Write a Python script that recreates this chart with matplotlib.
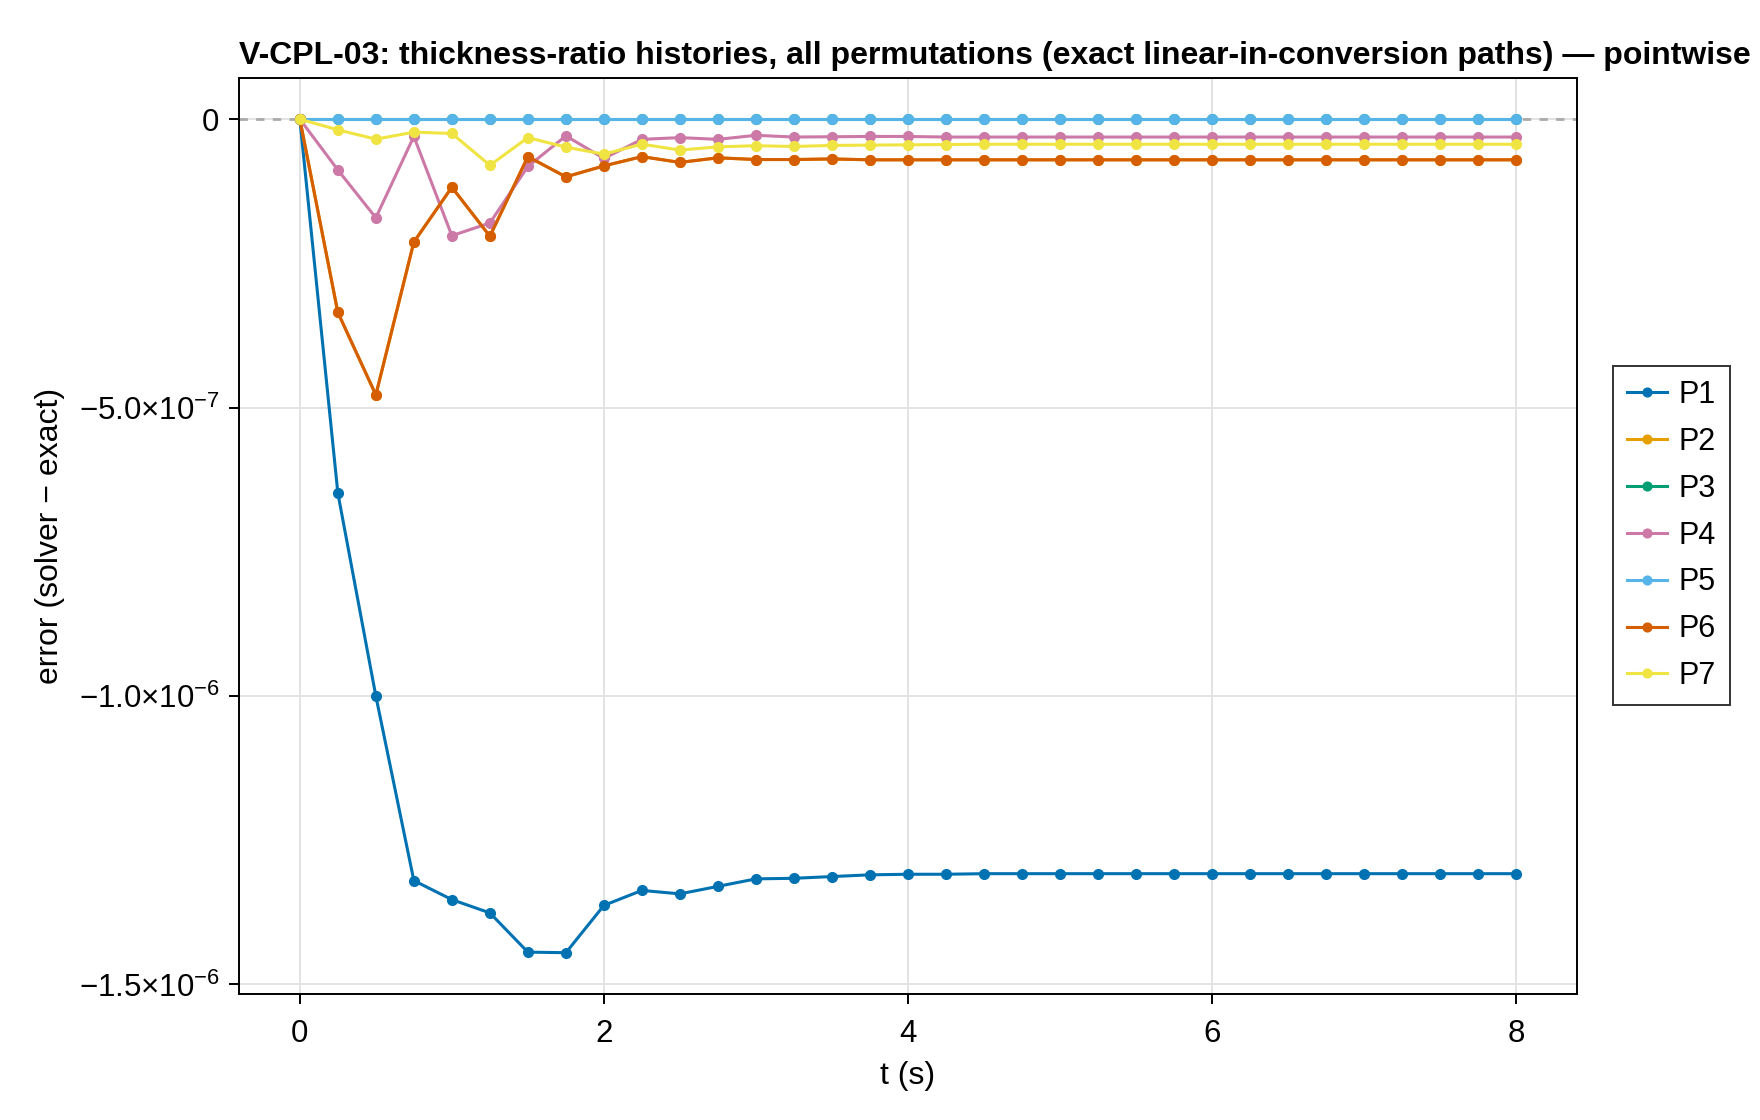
import matplotlib
matplotlib.use("Agg")
import matplotlib.pyplot as plt
import numpy as np

plt.rcParams["font.family"] = ["Liberation Sans", "DejaVu Sans"]
plt.rcParams["mathtext.fontset"] = "custom"
plt.rcParams["mathtext.rm"] = "Liberation Sans"
plt.rcParams["mathtext.it"] = "Liberation Sans:italic"
plt.rcParams["mathtext.bf"] = "Liberation Sans:bold"

# time samples (s)
t = np.arange(0, 8.01, 0.25)

# error (solver - exact)
p1 = [0, -6.48e-7, -1.0e-6, -1.320e-6, -1.353e-6, -1.376e-6, -1.444e-6, -1.445e-6,
      -1.363e-6, -1.337e-6, -1.343e-6, -1.330e-6, -1.317e-6, -1.316e-6, -1.313e-6,
      -1.310e-6, -1.309e-6, -1.309e-6, -1.308e-6, -1.308e-6, -1.308e-6, -1.308e-6,
      -1.308e-6, -1.308e-6, -1.308e-6, -1.308e-6, -1.308e-6, -1.308e-6, -1.308e-6,
      -1.308e-6, -1.308e-6, -1.308e-6, -1.308e-6]
p6 = [0, -3.35e-7, -4.78e-7, -2.13e-7, -1.18e-7, -2.03e-7, -6.5e-8, -1.0e-7,
      -8.1e-8, -6.5e-8, -7.5e-8, -6.7e-8, -7.0e-8, -7.0e-8, -6.9e-8, -7.05e-8,
      -7.05e-8, -7.05e-8, -7.05e-8, -7.05e-8, -7.05e-8, -7.05e-8, -7.05e-8, -7.05e-8,
      -7.05e-8, -7.05e-8, -7.05e-8, -7.05e-8, -7.05e-8, -7.05e-8, -7.05e-8, -7.05e-8,
      -7.05e-8]
p2 = list(p6)
p4 = [0, -8.8e-8, -1.71e-7, -3.0e-8, -2.02e-7, -1.80e-7, -8.2e-8, -2.9e-8,
      -6.8e-8, -3.5e-8, -3.2e-8, -3.5e-8, -2.8e-8, -3.1e-8, -3.05e-8, -3.0e-8,
      -3.0e-8, -3.1e-8, -3.1e-8, -3.1e-8, -3.1e-8, -3.1e-8, -3.1e-8, -3.1e-8,
      -3.1e-8, -3.1e-8, -3.1e-8, -3.1e-8, -3.1e-8, -3.1e-8, -3.1e-8, -3.1e-8,
      -3.1e-8]
p7 = [0, -1.85e-8, -3.47e-8, -2.25e-8, -2.48e-8, -8.0e-8, -3.2e-8, -4.85e-8,
      -6.07e-8, -4.33e-8, -5.37e-8, -4.8e-8, -4.6e-8, -4.74e-8, -4.55e-8, -4.5e-8,
      -4.45e-8, -4.4e-8, -4.35e-8, -4.35e-8, -4.35e-8, -4.35e-8, -4.35e-8, -4.35e-8,
      -4.35e-8, -4.35e-8, -4.35e-8, -4.35e-8, -4.35e-8, -4.35e-8, -4.35e-8, -4.35e-8,
      -4.35e-8]
p3 = [0.0] * len(t)
p5 = [0.0] * len(t)

series = [("P1", p1), ("P2", p2), ("P3", p3), ("P4", p4),
          ("P5", p5), ("P6", p6), ("P7", p7)]
colors = ["#0072B2", "#E69F00", "#009E73", "#CC79A7", "#56B4E9", "#D55E00", "#F0E442"]

y_ticks = [0, -5e-7, -1e-6, -1.5e-6]
y_tick_labels = ["0", r"$-5.0{\times}10^{-7}$", r"$-1.0{\times}10^{-6}$", r"$-1.5{\times}10^{-6}$"]
x_ticks = [0, 2, 4, 6, 8]

fig = plt.figure(figsize=(17.6, 11.2), dpi=100)
ax = fig.add_axes([0.1358, 0.1128, 0.896 - 0.1358, 0.9308 - 0.1128])

ax.axhline(0, color="#aaaaaa", lw=2.0, ls=(0, (3, 3)), zorder=1)
for (name, vals), c in zip(series, colors):
    ax.plot(t, vals, color=c, lw=2.2, marker="o", ms=7, label=name, zorder=3)

ax.set_xlim(-0.4, 8.4)
ax.set_ylim(-1.516e-6, 7.22e-8)
ax.set_xticks(x_ticks)
ax.set_yticks(y_ticks, y_tick_labels)
ax.grid(True, color="#e3e3e3", lw=1.4, zorder=0)
ax.set_axisbelow(True)
ax.tick_params(labelsize=22.5, length=7, width=1.4, direction="out")
ax.tick_params(axis="x", pad=11)
ax.tick_params(axis="y", pad=7)
for s in ax.spines.values():
    s.set_linewidth(1.4)

ax.set_xlabel("t (s)", fontsize=23, labelpad=9)
ax.set_ylabel("error (solver \u2212 exact)", fontsize=23, labelpad=10)
ax.set_title("V-CPL-03: thickness-ratio histories, all permutations "
             "(exact linear-in-conversion paths) \u2014 pointwise",
             loc="left", fontsize=23, fontweight="bold", pad=10)

leg = ax.legend(loc="center left", bbox_to_anchor=(1.027, 0.5), borderaxespad=0,
                fontsize=22, frameon=True, fancybox=False, edgecolor="black",
                handlelength=1.3, handletextpad=0.4, labelspacing=0.55,
                borderpad=0.45, markerscale=0.9)
leg.get_frame().set_linewidth(1.4)

fig.savefig("out.png", dpi=100)
